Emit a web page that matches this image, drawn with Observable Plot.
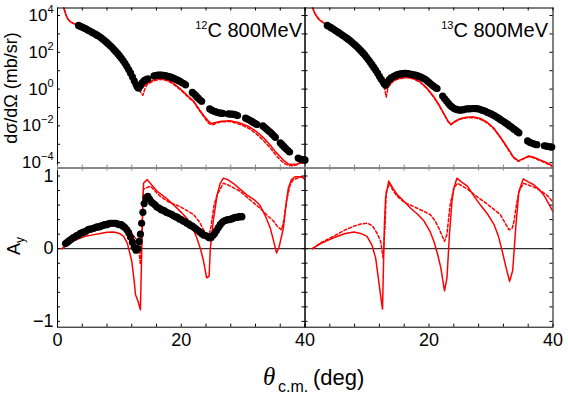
<!DOCTYPE html>
<html><head><meta charset="utf-8">
<script src="https://cdn.jsdelivr.net/npm/d3@7"></script>
<script src="https://cdn.jsdelivr.net/npm/@observablehq/plot@0.6"></script>
<style>
html,body{margin:0;padding:0;background:#fff;}
#chart{position:relative;width:568px;height:403px;overflow:hidden;background:#fff;}
#chart svg{position:absolute;left:0;top:0;}
</style></head><body><div id="chart"></div>
<script>
// ---------- DATA (x = theta c.m. in deg) ----------
// Cross sections stored as log10(dσ/dΩ in mb/sr)
const c12CsSolid = [[0.8,4.9],[1.0,4.45],[1.3,4.1],[1.6,3.85],[2.0,3.68],[2.5,3.58],[3.0,3.52],[3.4,3.46],[4.0,3.35],[5.0,3.18],[6.0,3.0],[7.0,2.8],[8.0,2.52],[9.0,2.18],[10.0,1.8],[11.0,1.35],[11.5,1.05],[12.0,0.75],[12.5,0.4],[13.0,0.1],[13.4,-0.06],[13.8,0.1],[14.5,0.32],[15.5,0.5],[16.6,0.57],[17.5,0.52],[18.5,0.38],[19.8,0.03],[21.0,-0.35],[22.0,-0.65],[23.0,-1.15],[23.6,-1.42],[24.4,-1.75],[24.9,-1.87],[25.5,-1.82],[26.5,-1.75],[27.9,-1.72],[29.5,-1.84],[31.0,-2.05],[32.2,-2.32],[33.3,-2.65],[34.4,-3.05],[35.2,-3.4],[36.0,-3.68],[36.7,-3.92],[37.3,-4.07],[38.0,-4.1],[38.7,-4.07],[39.3,-4.0],[39.7,-3.95],[40.0,-3.97]];
const c12CsDashed = [[0.8,4.9],[1.0,4.45],[1.3,4.1],[1.6,3.85],[2.0,3.68],[2.5,3.58],[3.0,3.52],[3.4,3.46],[4.0,3.35],[5.0,3.18],[6.0,3.0],[7.0,2.8],[8.0,2.52],[9.0,2.18],[10.0,1.8],[11.0,1.35],[11.5,1.05],[12.0,0.75],[12.5,0.4],[13.0,0.05],[13.5,-0.2],[13.8,-0.34],[14.1,0.0],[14.5,0.25],[15.5,0.45],[16.6,0.53],[17.5,0.48],[18.5,0.33],[19.8,-0.02],[21.0,-0.4],[22.0,-0.7],[23.0,-1.2],[23.6,-1.48],[24.4,-1.85],[25.0,-1.95],[25.5,-1.87],[26.5,-1.78],[27.9,-1.76],[29.5,-1.92],[31.0,-2.15],[32.2,-2.45],[33.3,-2.8],[34.4,-3.2],[35.2,-3.55],[36.0,-3.85],[36.7,-4.05],[37.3,-4.15],[38.0,-4.17],[38.7,-4.12],[39.3,-4.02],[40.0,-3.98]];
const c12CsData = [[3.4,3.46],[3.7,3.41],[4.0,3.37],[4.3,3.32],[4.6,3.27],[4.9,3.21],[5.2,3.16],[5.5,3.1],[5.8,3.05],[6.1,2.99],[6.4,2.93],[6.7,2.87],[7.0,2.8],[7.3,2.72],[7.6,2.64],[7.9,2.55],[8.2,2.46],[8.5,2.37],[8.8,2.27],[9.1,2.16],[9.4,2.05],[9.7,1.94],[10.0,1.82],[10.3,1.69],[10.6,1.55],[10.9,1.4],[11.2,1.24],[11.5,1.06],[11.8,0.88],[12.1,0.67],[12.4,0.45],[12.7,0.25],[12.9,0.12],[13.1,0.05],[13.4,0.2],[13.7,0.36],[14.0,0.46],[14.3,0.52],[14.6,0.56],[15.6,0.72],[15.9,0.74],[16.2,0.76],[16.5,0.76],[16.8,0.76],[17.1,0.75],[17.4,0.73],[17.7,0.71],[18.0,0.68],[18.3,0.65],[18.6,0.61],[18.9,0.57],[19.2,0.52],[19.5,0.47],[19.8,0.42],[20.1,0.36],[20.4,0.3],[20.7,0.23],[21.8,-0.18],[22.1,-0.27],[22.4,-0.37],[22.7,-0.48],[23.0,-0.58],[23.3,-0.66],[24.6,-1.08],[24.9,-1.14],[25.2,-1.19],[25.5,-1.23],[25.8,-1.26],[26.1,-1.29],[26.4,-1.31],[26.7,-1.32],[27.6,-1.35],[27.9,-1.36],[28.2,-1.36],[28.5,-1.37],[28.8,-1.4],[29.1,-1.44],[30.4,-1.58],[30.7,-1.63],[31.0,-1.68],[31.3,-1.74],[31.6,-1.8],[31.9,-1.86],[32.2,-1.92],[33.2,-2.0],[33.5,-2.09],[33.8,-2.18],[34.1,-2.27],[34.4,-2.35],[34.7,-2.45],[35.0,-2.55],[35.2,-2.62],[36.0,-2.92],[36.3,-3.02],[36.6,-3.13],[36.9,-3.23],[37.2,-3.33],[37.5,-3.42],[38.9,-3.75],[39.2,-3.8],[39.5,-3.84],[39.8,-3.85],[40.0,-3.85]];

const c13CsSolid = [[1.0,4.7],[1.2,4.45],[1.6,4.1],[2.0,3.9],[2.4,3.75],[3.0,3.6],[3.6,3.5],[4.5,3.33],[5.7,3.05],[7.0,2.78],[7.9,2.5],[9.0,2.1],[10.0,1.7],[11.0,1.2],[11.7,0.8],[12.4,0.35],[13.0,0.03],[13.5,0.25],[14.2,0.45],[14.9,0.57],[16.5,0.66],[17.5,0.58],[18.6,0.39],[19.7,0.05],[20.8,-0.43],[21.6,-0.85],[22.4,-1.33],[23.0,-1.7],[23.5,-1.91],[24.2,-1.75],[25.1,-1.6],[26.0,-1.53],[27.2,-1.51],[28.3,-1.6],[29.3,-1.78],[30.4,-2.1],[31.5,-2.6],[32.6,-3.15],[33.6,-3.68],[34.4,-3.9],[35.2,-3.78],[36.1,-3.64],[37.0,-3.72],[38.0,-3.86],[39.0,-4.0],[40.0,-4.18]];
const c13CsDashed = [[1.0,4.7],[1.2,4.45],[1.6,4.1],[2.0,3.9],[2.4,3.75],[3.0,3.6],[3.6,3.5],[4.5,3.33],[5.7,3.05],[7.0,2.78],[7.9,2.5],[9.0,2.1],[10.0,1.7],[11.0,1.2],[11.7,0.8],[12.4,0.35],[12.8,0.12],[13.1,-0.43],[13.4,0.1],[14.2,0.42],[14.9,0.54],[16.5,0.63],[17.5,0.55],[18.6,0.36],[19.7,0.02],[20.8,-0.46],[21.6,-0.88],[22.4,-1.36],[23.0,-1.73],[23.5,-1.94],[24.2,-1.78],[25.1,-1.63],[26.0,-1.56],[27.2,-1.55],[28.3,-1.64],[29.3,-1.82],[30.4,-2.14],[31.5,-2.64],[32.6,-3.2],[33.6,-3.72],[34.4,-3.93],[35.2,-3.8],[36.1,-3.67],[37.0,-3.75],[38.0,-3.9],[39.0,-4.05],[40.0,-4.22]];
const c13CsData = [[3.6,3.46],[3.9,3.4],[4.2,3.34],[4.5,3.28],[4.8,3.21],[5.1,3.14],[5.4,3.08],[5.7,3.01],[6.0,2.94],[6.3,2.87],[6.6,2.8],[6.9,2.73],[7.2,2.65],[7.5,2.57],[7.8,2.48],[8.1,2.39],[8.4,2.3],[8.7,2.2],[9.0,2.09],[9.3,1.98],[9.6,1.87],[9.9,1.74],[10.2,1.61],[10.5,1.47],[10.8,1.33],[11.1,1.18],[11.4,1.03],[11.7,0.87],[12.0,0.7],[12.3,0.53],[12.6,0.38],[12.8,0.28],[13.0,0.21],[13.3,0.38],[13.6,0.52],[13.9,0.61],[14.2,0.67],[14.5,0.72],[14.8,0.77],[15.1,0.8],[15.4,0.83],[15.7,0.84],[16.0,0.85],[16.3,0.85],[16.6,0.84],[16.9,0.82],[17.2,0.8],[17.5,0.78],[17.8,0.76],[18.1,0.73],[18.4,0.69],[18.7,0.65],[19.0,0.6],[19.3,0.55],[19.6,0.48],[19.9,0.39],[20.2,0.3],[20.5,0.22],[20.8,0.14],[21.1,0.07],[21.3,0.03],[22.2,-0.38],[22.5,-0.51],[22.8,-0.64],[23.1,-0.76],[23.4,-0.88],[23.7,-0.97],[24.0,-1.04],[24.3,-1.09],[24.6,-1.12],[24.9,-1.14],[25.2,-1.14],[25.5,-1.12],[25.8,-1.1],[26.1,-1.08],[26.4,-1.07],[26.7,-1.07],[27.0,-1.06],[27.3,-1.06],[27.6,-1.06],[27.9,-1.08],[28.2,-1.1],[28.5,-1.14],[28.8,-1.17],[29.1,-1.21],[29.4,-1.26],[29.7,-1.3],[30.0,-1.35],[30.3,-1.4],[30.6,-1.46],[30.9,-1.52],[31.2,-1.58],[31.5,-1.65],[31.8,-1.72],[32.1,-1.78],[32.4,-1.85],[32.7,-1.92],[33.0,-2.0],[33.3,-2.07],[33.6,-2.15],[33.9,-2.22],[34.2,-2.3],[34.5,-2.38],[35.9,-2.82],[36.2,-2.88],[36.5,-2.93],[36.8,-2.96],[37.1,-3.0],[37.4,-3.02],[38.6,-3.08],[38.9,-3.1],[39.2,-3.12],[39.5,-3.14],[39.8,-3.15]];

// Analyzing power A_y
const c12AySolid = [[0.75,0],[1.5,0.05],[2.2,0.09],[3.2,0.13],[4.5,0.17],[5.7,0.19],[6.9,0.21],[8.0,0.225],[9.1,0.23],[10.0,0.21],[10.7,0.17],[11.3,0.07],[12.0,-0.17],[12.4,-0.45],[12.6,-0.63],[13.0,-0.72],[13.4,-0.84],[13.7,0.3],[13.9,0.9],[14.5,0.95],[15.3,0.87],[16.1,0.79],[17.5,0.7],[18.8,0.6],[20.0,0.5],[20.9,0.42],[21.8,0.3],[22.5,0.15],[23.1,0.0],[23.6,-0.17],[24.1,-0.4],[24.5,-0.38],[24.7,0.0],[25.2,0.4],[25.8,0.74],[26.3,0.9],[26.8,0.97],[27.5,0.95],[28.4,0.9],[29.5,0.82],[30.6,0.74],[31.7,0.68],[32.7,0.6],[33.6,0.45],[34.4,0.28],[35.0,0.08],[35.4,-0.06],[35.8,0.02],[36.5,0.28],[37.0,0.65],[37.3,0.83],[37.8,0.95],[38.4,0.99],[39.5,0.99],[40.0,0.95]];
const c12AyDashed = [[0.75,0],[2.2,0.1],[3.2,0.15],[5.0,0.22],[6.9,0.27],[8.5,0.32],[10.2,0.35],[10.8,0.33],[11.5,0.27],[12.3,0.18],[12.9,0.1],[13.2,-0.05],[13.4,-0.22],[13.7,0.4],[13.9,0.82],[15.0,0.86],[16.6,0.72],[18.0,0.64],[19.8,0.58],[21.0,0.52],[22.0,0.47],[23.0,0.36],[23.6,0.26],[24.4,0.15],[24.8,0.3],[25.3,0.6],[25.8,0.74],[26.8,0.9],[27.5,0.88],[29.5,0.79],[31.0,0.68],[32.7,0.56],[34.0,0.45],[34.9,0.38],[35.6,0.3],[36.2,0.26],[36.6,0.4],[37.0,0.65],[37.6,0.88],[38.1,0.95],[39.5,0.99],[40.0,0.97]];
const c12AyData = [[1.3,0.07],[1.6,0.09],[1.9,0.11],[2.2,0.13],[2.5,0.15],[2.8,0.16],[3.1,0.18],[3.4,0.19],[3.7,0.21],[4.0,0.22],[4.3,0.23],[4.6,0.24],[4.9,0.26],[5.2,0.27],[5.5,0.27],[5.8,0.28],[6.1,0.29],[6.4,0.3],[6.7,0.3],[7.0,0.31],[7.3,0.32],[7.6,0.33],[7.9,0.33],[8.2,0.34],[8.5,0.35],[8.8,0.35],[9.1,0.35],[9.4,0.35],[9.7,0.34],[10.0,0.33],[10.3,0.33],[10.6,0.31],[10.9,0.29],[11.2,0.26],[11.5,0.22],[11.8,0.16],[12.1,0.09],[12.4,0.02],[12.7,-0.02],[13.0,0.0],[13.2,0.1],[13.4,0.2],[13.6,0.35],[13.8,0.5],[14.0,0.62],[14.3,0.7],[14.6,0.72],[14.9,0.68],[15.2,0.64],[15.5,0.62],[15.8,0.6],[16.1,0.57],[16.4,0.56],[16.7,0.54],[17.0,0.53],[17.3,0.52],[17.6,0.5],[17.9,0.49],[18.2,0.48],[18.5,0.47],[18.8,0.45],[19.1,0.44],[19.4,0.43],[19.7,0.41],[20.0,0.4],[20.3,0.38],[20.6,0.37],[20.9,0.35],[21.2,0.34],[21.5,0.32],[21.8,0.31],[22.1,0.29],[22.4,0.27],[22.7,0.25],[23.0,0.23],[23.3,0.21],[23.6,0.19],[23.9,0.18],[24.2,0.17],[24.5,0.15],[24.8,0.15],[25.1,0.18],[25.4,0.21],[25.7,0.25],[26.0,0.29],[26.3,0.33],[26.6,0.36],[26.9,0.38],[27.2,0.39],[27.5,0.4],[27.8,0.4],[28.1,0.41],[28.4,0.42],[28.7,0.43],[29.0,0.43],[29.3,0.44],[29.6,0.44],[29.8,0.44]];

const c13AySolid = [[1.2,0],[2.5,0.07],[4.6,0.15],[6.5,0.21],[7.9,0.23],[9.0,0.21],[10.0,0.17],[10.8,0.05],[11.4,-0.13],[11.9,-0.45],[12.2,-0.65],[12.5,-0.83],[12.8,0.3],[13.0,0.7],[13.5,0.93],[14.2,0.83],[14.9,0.74],[16.0,0.65],[17.0,0.56],[18.2,0.47],[19.2,0.38],[20.1,0.25],[20.8,0.1],[21.4,-0.08],[21.9,-0.26],[22.5,-0.58],[22.9,-0.4],[23.3,0.2],[23.7,0.65],[24.0,0.83],[24.5,0.97],[25.2,0.92],[26.2,0.86],[27.2,0.73],[28.3,0.6],[29.5,0.47],[30.5,0.33],[31.2,0.17],[31.8,-0.03],[32.4,-0.25],[33.0,-0.45],[33.5,-0.3],[34.0,0.3],[34.5,0.79],[35.2,0.96],[36.0,0.92],[36.9,0.88],[37.7,0.82],[38.5,0.74],[39.3,0.62],[40.0,0.51]];
const c13AyDashed = [[1.2,0],[2.5,0.08],[4.6,0.17],[6.5,0.26],[7.9,0.31],[9.0,0.34],[10.0,0.35],[10.6,0.33],[11.0,0.3],[11.7,0.2],[12.2,0.1],[12.6,-0.13],[12.9,0.3],[13.1,0.78],[13.6,0.9],[14.2,0.8],[14.9,0.72],[16.0,0.64],[17.5,0.58],[19.0,0.52],[20.2,0.47],[21.0,0.38],[21.6,0.28],[22.1,0.18],[22.5,0.1],[22.9,0.2],[23.4,0.6],[24.0,0.83],[24.6,0.9],[25.4,0.86],[26.2,0.82],[27.5,0.73],[28.8,0.65],[30.2,0.56],[31.5,0.47],[32.3,0.35],[32.9,0.26],[33.4,0.28],[33.7,0.37],[34.1,0.6],[34.5,0.78],[35.2,0.9],[36.2,0.87],[37.4,0.83],[38.3,0.78],[39.0,0.74],[40.0,0.64]];

// ---------- TICKS / LABELS ----------
const xTicks = [0,4,8,12,16,20,24,28,32,36,40];
const xTickLabelsLeft = [0,20,40];
const xTickLabelsRight = [20,40];
const csTickExps = [-4,-3,-2,-1,0,1,2,3,4];
const csLabelExps = [-4,-2,0,2,4];
const ayTicks = [-1,-0.8,-0.6,-0.4,-0.2,0,0.2,0.4,0.6,0.8,1];
const ayTickLabels = [-1,0,1];
const panelLabels = [{mass:"12", text:"C 800MeV"},{mass:"13", text:"C 800MeV"}];
const yTitleCs = "dσ/dΩ (mb/sr)";
const xTitle = {sym:"θ", sub:"c.m.", unit:"(deg)"};

// ---------- LAYOUT ----------
const W = 568, H = 403;
const colL = [57, 304.5], colR = [304.5, 552.5];
const rowT = [7.5, 167.5], rowB = [167.5, 326.7];
const csDomain = [10 ** -4.29, 10 ** 4.41];
const ayDomain = [-1.08, 1.11];
const RED = "#ff0000";
const FONT = "'Liberation Sans', Arial, Helvetica, sans-serif";

function edgeTicks(xs, ys, fw, fh, midColorTop, midColorBottom) {
  return [
    Plot.tickX(xs, {x: d => d, insetTop: fh - 3, stroke: midColorBottom}),
    Plot.tickX(xs, {x: d => d, insetBottom: fh - 3, stroke: midColorTop}),
    Plot.tickY(ys, {y: d => d, insetRight: fw - 3, stroke: "black"}),
    Plot.tickY(ys, {y: d => d, insetLeft: fw - 3, stroke: "black"})
  ];
}

function makePanel({col, row, top, left, cs, solid, dashed, data, xLabels}) {
  const fw = col[1] - col[0], fh = row[1] - row[0];
  const yv = cs ? (d => 10 ** d[1]) : (d => d[1]);
  const csTicks = csTickExps.map(e => 10 ** e);
  const marks = [];
  if (!cs) marks.push(Plot.ruleY([0], {stroke: "black", strokeWidth: 1}));
  marks.push(
    Plot.line(solid, {x: d => d[0], y: yv, stroke: RED, strokeWidth: 1.5, clip: true}),
    Plot.line(dashed, {x: d => d[0], y: yv, stroke: RED, strokeWidth: 1.5, strokeDasharray: "3,2.2", clip: true})
  );
  if (data) marks.push(Plot.dot(data, {x: d => d[0], y: yv, r: 3.6, fill: "black", stroke: null}));
  marks.push(Plot.frame({stroke: "black", strokeWidth: 1}));
  if (top) marks.push(Plot.ruleY([cs ? csDomain[0] : ayDomain[0]], {stroke: "#888", strokeWidth: 2}));
  else marks.push(Plot.ruleY([ayDomain[1]], {stroke: "#888", strokeWidth: 2}));
  marks.push(...edgeTicks(xTicks, cs ? csTicks : ayTicks, fw, fh, top ? "black" : "#888", top ? "#888" : "black"));
  if (left) {
    if (cs) marks.push(Plot.axisY({ticks: csLabelExps.map(e => 10 ** e), tickSize: 0, tickPadding: 4, label: null,
      tickFormat: d => "10^" + Math.round(Math.log10(d)), fontSize: 17}));
    else marks.push(Plot.axisY({ticks: ayTickLabels, tickSize: 0, tickPadding: 4, label: null,
      tickFormat: d => d < 0 ? "\u2212" + Math.abs(d) : String(d), fontSize: 18}));
  }
  if (!top) marks.push(Plot.axisX({ticks: xLabels, tickSize: 0, tickPadding: 6.5, label: null, fontSize: 18}));
  const svg = Plot.plot({
    width: W, height: H,
    marginLeft: col[0], marginRight: W - col[1], marginTop: row[0], marginBottom: H - row[1],
    x: {domain: [0, 40], axis: top ? null : undefined},
    y: cs ? {type: "log", domain: csDomain, axis: left ? undefined : null}
          : {domain: ayDomain, axis: left ? undefined : null},
    style: {background: "transparent", fontFamily: FONT, fontSize: "18px", color: "black", overflow: "visible"},
    marks
  });
  if (cs && left) {
    svg.querySelectorAll('[aria-label="y-axis tick label"] text').forEach(t => {
      const [b, e] = t.textContent.split("^");
      t.textContent = b;
      const ts = document.createElementNS("http://www.w3.org/2000/svg", "tspan");
      ts.setAttribute("dy", "-8");
      ts.setAttribute("font-size", "11");
      ts.textContent = (+e < 0 ? "\u2212" + Math.abs(+e) : e);
      t.appendChild(ts);
    });
  }
  return svg;
}

const chart = document.getElementById("chart");
chart.appendChild(makePanel({col: colL, row: rowT, top: true, left: true, cs: true, solid: c12CsSolid, dashed: c12CsDashed, data: c12CsData}));
chart.appendChild(makePanel({col: colR, row: rowT, top: true, left: false, cs: true, solid: c13CsSolid, dashed: c13CsDashed, data: c13CsData}));
chart.appendChild(makePanel({col: colL, row: rowB, top: false, left: true, cs: false, solid: c12AySolid, dashed: c12AyDashed, data: c12AyData, xLabels: xTickLabelsLeft}));
chart.appendChild(makePanel({col: colR, row: rowB, top: false, left: false, cs: false, solid: c13AySolid, dashed: c13AyDashed, data: null, xLabels: xTickLabelsRight}));

// ---------- Annotations (titles, panel labels) ----------
const ann = d3.create("svg").attr("width", W).attr("height", H)
  .style("font-family", FONT).style("overflow", "visible");
[[302, panelLabels[0]], [548, panelLabels[1]]].forEach(([xr, p]) => {
  const t = ann.append("text").attr("x", xr).attr("y", 37).attr("text-anchor", "end").attr("fill", "black");
  t.append("tspan").attr("font-size", 11).attr("dy", -8).text(p.mass);
  t.append("tspan").attr("font-size", 20).attr("dy", 8).text(p.text);
});
ann.append("text").attr("transform", "translate(17,88) rotate(-90)").attr("text-anchor", "middle")
  .attr("font-size", 18).text(yTitleCs);
const ay = ann.append("text").attr("transform", "translate(20,246) rotate(-90)").attr("text-anchor", "middle")
  .attr("font-size", 18);
ay.append("tspan").text("A");
ay.append("tspan").attr("font-size", 12).attr("dy", 4).text("y");
ann.append("text").attr("x", 263).attr("y", 385).attr("font-family", "'Liberation Serif', 'Times New Roman', serif")
  .attr("font-style", "italic").attr("font-size", 25).text(xTitle.sym);
ann.append("text").attr("x", 278).attr("y", 391.5).attr("font-size", 16).text(xTitle.sub);
ann.append("text").attr("x", 313).attr("y", 385).attr("font-size", 22).text(xTitle.unit);
chart.appendChild(ann.node());
</script></body></html>
